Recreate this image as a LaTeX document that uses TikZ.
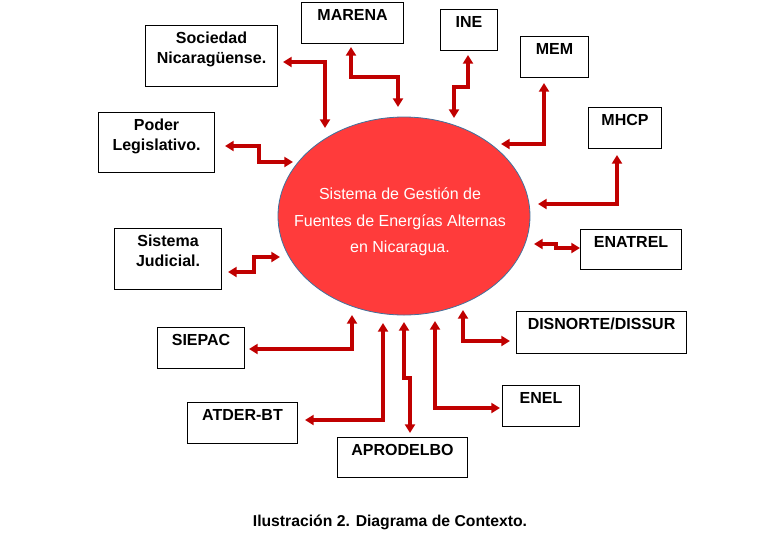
\documentclass[tikz,border=0pt]{standalone}
\usepackage{fontspec}
\setmainfont{Liberation Sans}
\usetikzlibrary{arrows.meta,shapes.geometric}
\definecolor{linkred}{RGB}{192,0,0}
\definecolor{sysred}{RGB}{255,59,59}
\definecolor{sysline}{RGB}{65,113,156}

\begin{document}
\begin{tikzpicture}[x=0.75pt,y=-0.75pt,
    box/.style={draw,line width=0.8pt,anchor=north west,inner sep=0pt},
    boxtext/.style={anchor=north,inner sep=0pt,align=center,
      font=\fontsize{12}{15}\selectfont\bfseries},
    link/.style={linkred,line width=2.3pt,
      {Triangle[width=7.5pt,length=6.5pt]}-{Triangle[width=7.5pt,length=6.5pt]}}]
  \useasboundingbox (0,0) rectangle (769,537);

  % Box with its label at the top: name, x, y, width, height, text
  \def\ctxbox#1#2#3#4#5#6{
    \node[box,minimum width=#4,minimum height=#5] (#1) at (#2,#3) {};
    \node[boxtext] (#1-t) at ([yshift=-5.3pt]#1.north) {#6};
  }

  % Central system
  \node[ellipse,draw=sysline,line width=0.6pt,fill=sysred,inner sep=0pt,
    minimum width=189pt,minimum height=148.5pt] (sys) at (404,216) {};
  \node[text=white,align=center,inner sep=0pt,
    font=\fontsize{12}{20}\selectfont] (sys-t) at (400,222)
    {Sistema de Gestión de\\Fuentes de Energías Alternas\\en Nicaragua.};

  % External entities
  \ctxbox{soc}{145}{25}{99pt}{45.75pt}{Sociedad\\Nicaragüense.}
  \ctxbox{mar}{301}{2}{76.5pt}{30.75pt}{MARENA}
  \ctxbox{ine}{440}{9}{42.75pt}{30.75pt}{INE}
  \ctxbox{mem}{520}{36}{51pt}{30.75pt}{MEM}
  \ctxbox{mhcp}{588}{107}{54.75pt}{30.75pt}{MHCP}
  \ctxbox{ena}{580}{229}{75.75pt}{30pt}{ENATREL}
  \ctxbox{pod}{98}{112}{87pt}{45pt}{Poder\\Legislativo.}
  \ctxbox{jud}{114}{228}{80.25pt}{45.75pt}{Sistema\\Judicial.}
  \ctxbox{sie}{157}{327}{65.25pt}{30.75pt}{SIEPAC}
  \ctxbox{atd}{187}{402}{82.5pt}{30.75pt}{ATDER-BT}
  \ctxbox{apr}{337}{437}{97.5pt}{30pt}{APRODELBO}
  \ctxbox{dis}{516}{311}{127.5pt}{31.5pt}{DISNORTE/DISSUR}
  \ctxbox{enel}{502}{385}{57.75pt}{30.75pt}{ENEL}

  % Connector ends: a at the entity, b at the system
  \coordinate (soc-a) at (283,62);   \coordinate (soc-b) at (325,128);
  \coordinate (mar-a) at (351,47);   \coordinate (mar-b) at (398,107);
  \coordinate (ine-a) at (468,55);   \coordinate (ine-b) at (454,118);
  \coordinate (mem-a) at (544,83);   \coordinate (mem-b) at (501,144);
  \coordinate (mhcp-a) at (617,155); \coordinate (mhcp-b) at (538,204);
  \coordinate (ena-a) at (580,248);  \coordinate (ena-b) at (534,244);
  \coordinate (pod-a) at (225,146);  \coordinate (pod-b) at (293,162);
  \coordinate (jud-a) at (228,272);  \coordinate (jud-b) at (280,257);
  \coordinate (sie-a) at (249,349);  \coordinate (sie-b) at (352,315);
  \coordinate (atd-a) at (305,420);  \coordinate (atd-b) at (383,323);
  \coordinate (apr-a) at (410,433);  \coordinate (apr-b) at (404,322);
  \coordinate (enel-a) at (500,408); \coordinate (enel-b) at (435,321);
  \coordinate (dis-a) at (510,341);  \coordinate (dis-b) at (463,310);

  % Data flows
  \draw[link] (soc-a) -| (soc-b);
  \draw[link] (mar-a) -- ++(0,30) -| (mar-b);
  \draw[link] (ine-a) -- ++(0,32) -| (ine-b);
  \draw[link] (mem-a) |- (mem-b);
  \draw[link] (mhcp-a) |- (mhcp-b);
  \draw[link] (ena-b) -- ++(22,0) |- (ena-a);
  \draw[link] (pod-a) -- ++(34,0) |- (pod-b);
  \draw[link] (jud-a) -- ++(26,0) |- (jud-b);
  \draw[link] (sie-a) -| (sie-b);
  \draw[link] (atd-a) -| (atd-b);
  \draw[link] (apr-b) -- ++(0,56) -| (apr-a);
  \draw[link] (enel-b) |- (enel-a);
  \draw[link] (dis-b) |- (dis-a);

  % Caption
  \node[anchor=base,inner sep=0pt,font=\fontsize{11.8}{14}\selectfont\bfseries]
    (cap) at (390,526) {Ilustración 2. Diagrama de Contexto.};
\end{tikzpicture}
\end{document}
